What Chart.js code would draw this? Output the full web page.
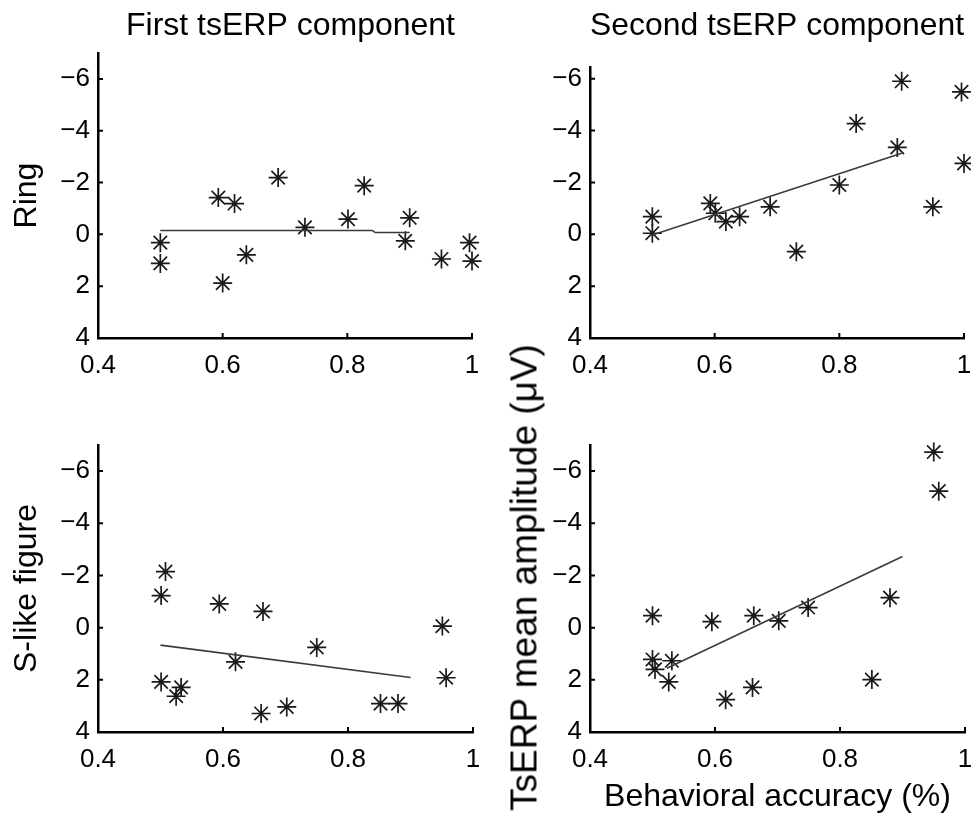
<!DOCTYPE html>
<html>
<head>
<meta charset="utf-8">
<title>tsERP amplitude vs behavioral accuracy</title>
<script src="https://cdn.jsdelivr.net/npm/chart.js@4.4.0/dist/chart.umd.min.js"></script>
<style>
  body { margin: 0; background: #fff; }
  #wrap { position: relative; width: 971px; height: 817px; overflow: hidden; }
  canvas { position: absolute; }
  #ylab {
    position: absolute; left: 283.5px; top: 558.5px; width: 480px; height: 37px;
    line-height: 37px; text-align: center; white-space: nowrap; color: #000;
    font-family: 'Liberation Sans', Arial, Helvetica, sans-serif; font-size: 37px;
    transform: rotate(-90deg); transform-origin: center;
  }
</style>
</head>
<body>
<div id="wrap">
  <canvas id="c3" width="500" height="417" style="left:0;top:400px"></canvas>
  <canvas id="c4" width="500" height="487" style="left:485px;top:330px"></canvas>
  <canvas id="c2" width="500" height="400" style="left:485px;top:0"></canvas>
  <canvas id="c1" width="581" height="400" style="left:0;top:0"></canvas>
  <div id="ylab">TsERP mean amplitude (μV)</div>
</div>
<script>
// tick labels
var xTicks = [0.4, 0.6, 0.8, 1];
var yTicks = [-6, -4, -2, 0, 2, 4];

// Ring, first component
var ring1Acc = [0.50, 0.50, 0.593, 0.619, 0.60, 0.638, 0.689, 0.732, 0.801, 0.827, 0.893, 0.90, 0.951, 0.996, 1.0];
var ring1Amp = [0.32, 1.12, -1.42, -1.19, 1.88, 0.79, -2.19, -0.27, -0.59, -1.88, 0.25, -0.64, 0.95, 0.32, 1.03];
var ring1FitAcc = [0.5, 0.84, 0.845, 0.9];
var ring1FitAmp = [-0.15, -0.15, -0.07, -0.07];

// Ring, second component
var ring2Acc = [0.50, 0.50, 0.593, 0.601, 0.618, 0.64, 0.689, 0.731, 0.80, 0.827, 0.893, 0.90, 0.95, 0.996, 1.0];
var ring2Amp = [-0.68, -0.04, -1.19, -0.81, -0.49, -0.68, -1.06, 0.67, -1.90, -4.27, -3.35, -5.90, -1.06, -5.49, -2.73];
var ring2FitAcc = [0.5, 0.9];
var ring2FitAmp = [0.03, -3.12];

// S-like figure, first component
var s1Acc = [0.508, 0.501, 0.594, 0.664, 0.951, 0.750, 0.620, 0.501, 0.533, 0.525, 0.661, 0.702, 0.852, 0.88, 0.957];
var s1Amp = [-2.15, -1.23, -0.91, -0.62, -0.06, 0.76, 1.31, 2.08, 2.29, 2.63, 3.29, 3.04, 2.91, 2.91, 1.92];
var s1FitAcc = [0.5, 0.9];
var s1FitAmp = [0.67, 1.91];

// S-like figure, second component
var s2Acc = [0.950, 0.958, 0.88, 0.50, 0.595, 0.662, 0.702, 0.749, 0.50, 0.504, 0.531, 0.526, 0.617, 0.660, 0.851];
var s2Amp = [-6.73, -5.23, -1.15, -0.46, -0.23, -0.46, -0.26, -0.77, 1.22, 1.60, 1.27, 2.08, 2.76, 2.29, 1.99];
var s2FitAcc = [0.523, 0.9];
var s2FitAmp = [1.56, -2.73];

var fnt = "'Liberation Sans', Arial, Helvetica, sans-serif";

function pts(xs, ys) {
  return xs.map(function(x, i) { return {x: x, y: ys[i]}; });
}

// small matlab-style ticks pointing into the plot
var inwardTicks = {
  id: 'inwardTicks',
  afterDraw: function(chart) {
    var ctx = chart.ctx, a = chart.chartArea;
    var sx = chart.scales.x, sy = chart.scales.y;
    ctx.save();
    ctx.strokeStyle = '#000';
    ctx.lineWidth = 2;
    ctx.beginPath();
    xTicks.forEach(function(v) {
      var p = sx.getPixelForValue(v);
      ctx.moveTo(p, a.bottom); ctx.lineTo(p, a.bottom - 5);
    });
    yTicks.forEach(function(v) {
      var p = sy.getPixelForValue(v);
      ctx.moveTo(a.left, p); ctx.lineTo(a.left + 5, p);
    });
    ctx.stroke();
    ctx.restore();
  }
};

function panel(id, o) {
  var ctx = document.getElementById(id).getContext('2d');
  var scales = {
    x: {
      type: 'linear',
      min: 0.4,
      max: 1,
      afterBuildTicks: function(s) { s.ticks = xTicks.map(function(v) { return {value: v}; }); },
      afterFit: function(s) { s.height = o.xHeight; },
      grid: { drawOnChartArea: false, drawTicks: false },
      border: { color: '#000', width: 2.5 },
      ticks: {
        color: '#000', padding: 12, maxRotation: 0, autoSkip: false,
        font: { family: fnt, size: 26 },
        callback: function(v) { return String(v); }
      },
      title: {
        display: !!o.xTitle,
        text: o.xTitle || '',
        color: '#000',
        font: { family: fnt, size: 32 },
        padding: { top: 0, bottom: 1 }
      }
    },
    y: {
      type: 'linear',
      reverse: true,
      min: o.yMin,
      max: 4,
      afterBuildTicks: function(s) { s.ticks = yTicks.map(function(v) { return {value: v}; }); },
      afterFit: function(s) { s.width = o.yWidth; },
      grid: { drawOnChartArea: false, drawTicks: false },
      border: { color: '#000', width: 2.5 },
      ticks: {
        color: '#000', padding: 8, autoSkip: false,
        font: { family: fnt, size: 26 },
        callback: function(v) { return String(v).replace('-', '\u2212'); }
      },
      title: {
        display: !!o.yTitle,
        text: o.yTitle || '',
        color: '#000',
        font: { family: fnt, size: 32 },
        padding: { top: 7.8, bottom: 0 }
      }
    }
  };
  // empty box on the right so a full-width title sits where the original one does
  if (o.spacer) {
    scales.side = {
      type: 'linear', position: 'right', display: true,
      grid: { display: false, drawTicks: false },
      border: { display: false },
      ticks: { display: false },
      afterFit: function(s) { s.width = o.spacer; }
    };
  }
  return new Chart(ctx, {
    type: 'scatter',
    data: {
      datasets: [{
        data: pts(o.fitAcc, o.fitAmp),
        showLine: true,
        borderColor: '#3a3a3a',
        borderWidth: 1.6,
        pointRadius: 0
      }, {
        data: pts(o.acc, o.amp),
        pointStyle: 'star',
        pointRadius: 9.5,
        borderWidth: 1.7,
        borderColor: '#1a1a1a',
        backgroundColor: '#1a1a1a',
        clip: false
      }]
    },
    options: {
      responsive: false,
      animation: false,
      layout: { padding: { top: o.padTop, right: o.padRight, left: 0, bottom: 0 } },
      plugins: {
        legend: { display: false },
        tooltip: { enabled: false },
        title: {
          display: !!o.title,
          text: o.title || '',
          fullSize: !!o.spacer,
          color: '#000',
          font: { family: fnt, size: 32, weight: 'normal' },
          padding: { top: o.tTop || 0, bottom: o.tBottom || 0 }
        }
      },
      scales: scales
    },
    plugins: [inwardTicks]
  });
}

panel('c1', {
  acc: ring1Acc, amp: ring1Amp, fitAcc: ring1FitAcc, fitAmp: ring1FitAmp,
  title: 'First tsERP component', tTop: 6.8, tBottom: 7.8,
  yTitle: 'Ring', yMin: -7,
  padTop: 0, padRight: 0, spacer: 109, yWidth: 98, xHeight: 62
});

panel('c2', {
  acc: ring2Acc, amp: ring2Amp, fitAcc: ring2FitAcc, fitAmp: ring2FitAmp,
  title: 'Second tsERP component', tTop: 6.8, tBottom: 21.8,
  yMin: -6.45,
  padTop: 0, padRight: 21, yWidth: 105, xHeight: 62
});

panel('c3', {
  acc: s1Acc, amp: s1Amp, fitAcc: s1FitAcc, fitAmp: s1FitAmp,
  yTitle: 'S-like figure', yMin: -7,
  padTop: 45, padRight: 27, yWidth: 98, xHeight: 85
});

panel('c4', {
  acc: s2Acc, amp: s2Amp, fitAcc: s2FitAcc, fitAmp: s2FitAmp,
  xTitle: 'Behavioral accuracy (%)', yMin: -7,
  padTop: 115, padRight: 20, yWidth: 105, xHeight: 85
});
</script>
</body>
</html>
